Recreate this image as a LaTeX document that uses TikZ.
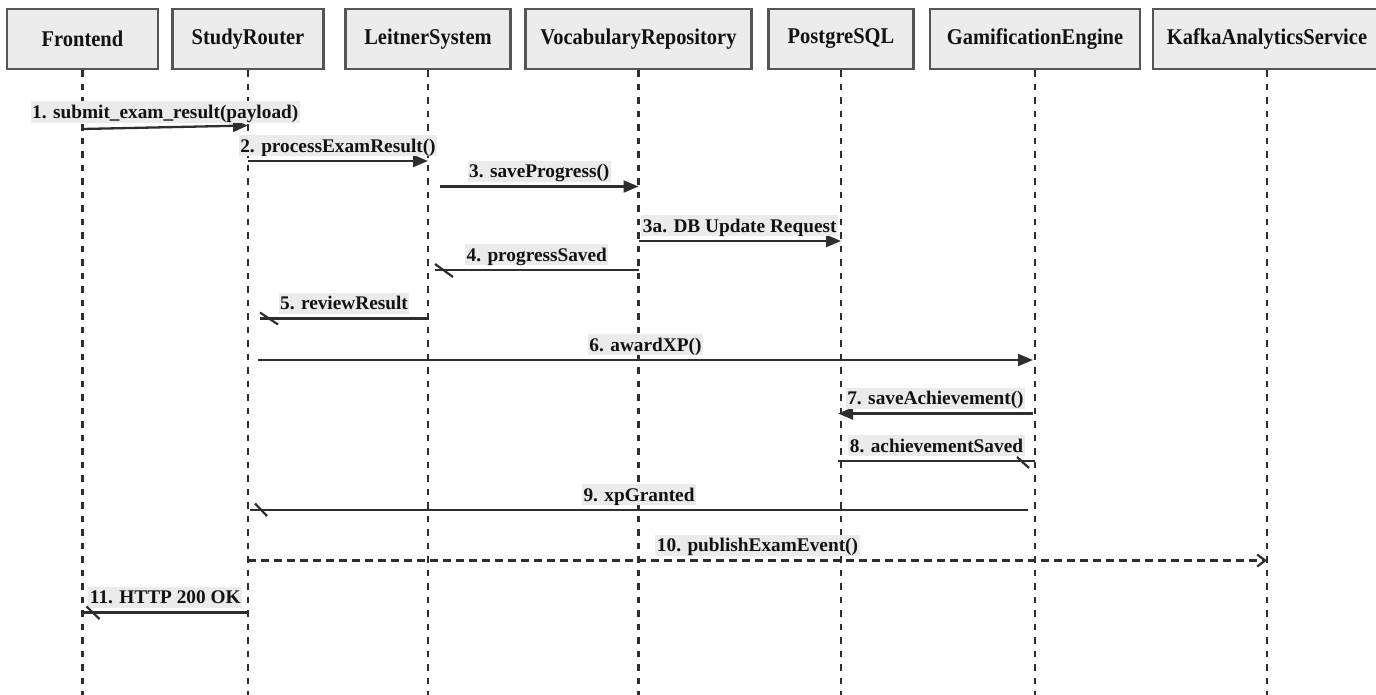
\documentclass[tikz,border=0pt]{standalone}
\usepackage{fontspec}
\setmainfont{Liberation Serif}
\newfontfamily\headfont{Liberation Serif}[FakeStretch=0.91]
\usetikzlibrary{arrows.meta,calc}
\definecolor{lc}{HTML}{2E2E2E}
\definecolor{hdfill}{HTML}{ECECEC}
\definecolor{hdborder}{HTML}{555555}
\definecolor{lblfill}{HTML}{EBEBEB}
\definecolor{txt}{HTML}{121212}
\tikzset{
  head/.style={draw=hdborder, line width=2.4pt, fill=hdfill, text=txt,
    minimum height=60pt, inner sep=0pt,
    font=\headfont\fontsize{22.5}{27}\selectfont\bfseries},
  life/.style={draw=lc, line width=2.4pt, dash pattern=on 6.5pt off 7pt},
  msgline/.style={draw=lc, line width=2.3pt},
  sync/.style={msgline, -{Triangle[length=15pt,width=12pt]}},
  async/.style={msgline, dash pattern=on 8pt off 5pt, -{Straight Barb[length=8pt,width=12pt,line width=2.2pt]}},
  ticktip/.style={draw=lc, line width=2.2pt},
  lbl/.style={fill=lblfill, text=txt, inner xsep=1.5pt, inner ysep=0pt,
    text height=17pt, text depth=4.3pt, anchor=south, yshift=3.5pt,
    font=\fontsize{19.3}{23}\selectfont\bfseries}
}
\begin{document}
\begin{tikzpicture}[x=1pt,y=-1pt]
\useasboundingbox (0,0) rectangle (1376,695);
\clip (0,0) rectangle (1376,695);
% participants
\node[head, minimum width=151pt] (FE) at (82.5,39) {Frontend};
\node[head, minimum width=151pt] (SR) at (248,39) {StudyRouter};
\node[head, minimum width=165pt] (LS) at (428,39) {LeitnerSystem};
\node[head, minimum width=226pt] (VR) at (638.5,39) {VocabularyRepository};
\node[head, minimum width=145pt] (PG) at (841,39) {PostgreSQL};
\node[head, minimum width=210pt] (GE) at (1035,39) {GamificationEngine};
\node[head, minimum width=228pt] (KA) at (1267,39) {KafkaAnalyticsService};
% lifelines
\foreach \p in {FE,SR,LS,VR,PG,GE,KA}{
  \coordinate (\p b) at (\p.south |- 0,700);
  \draw[life] (\p.south) -- (\p b);
}
% 1
\coordinate (m1s) at (FE |- 0,129);
\coordinate (m1e) at (SR |- 0,125.5);
\draw[sync] (m1s) -- (m1e) node[midway, lbl] (l1) {1. submit\_exam\_result(payload)};
% 2
\coordinate (m2s) at (SR |- 0,161);
\coordinate (m2e) at (LS |- 0,161);
\draw[sync] (m2s) -- (m2e) node[midway, lbl] (l2) {2. processExamResult()};
% 3
\coordinate (m3s) at ([xshift=12pt]LS.center |- 0,186.5);
\coordinate (m3e) at (VR |- 0,186.5);
\draw[sync] (m3s) -- (m3e) node[midway, lbl] (l3) {3. saveProgress()};
% 3a
\coordinate (m3as) at (VR |- 0,241);
\coordinate (m3ae) at (PG |- 0,241);
\draw[sync] (m3as) -- (m3ae) node[midway, lbl] (l3a) {3a. DB Update Request};
% 4
\coordinate (m4s) at (VR |- 0,270);
\coordinate (m4e) at ([xshift=7pt]LS.center |- 0,270);
\draw[msgline] (m4s) -- (m4e) node[midway, lbl] (l4) {4. progressSaved};
\draw[ticktip] ([shift={(0,-6)}]m4e) -- ([shift={(18,7)}]m4e);
% 5
\coordinate (m5s) at (LS |- 0,318.5);
\coordinate (m5e) at ([xshift=12pt]SR.center |- 0,318.5);
\draw[msgline] (m5s) -- (m5e) node[midway, lbl] (l5) {5. reviewResult};
\draw[ticktip] ([shift={(0,-6)}]m5e) -- ([shift={(18,6)}]m5e);
% 6
\coordinate (m6s) at ([xshift=10pt]SR.center |- 0,360);
\coordinate (m6e) at ([xshift=-2pt]GE.center |- 0,360);
\draw[sync] (m6s) -- (m6e) node[midway, lbl] (l6) {6. awardXP()};
% 7
\coordinate (m7s) at ([xshift=-2pt]GE.center |- 0,413.5);
\coordinate (m7e) at ([xshift=-3pt]PG.center |- 0,413.5);
\draw[sync] (m7s) -- (m7e) node[midway, lbl] (l7) {7. saveAchievement()};
% 8
\coordinate (m8s) at ([xshift=-3pt]PG.center |- 0,461);
\coordinate (m8e) at (GE |- 0,461);
\draw[msgline] (m8s) -- (m8e) node[midway, lbl] (l8) {8. achievementSaved};
\draw[ticktip] ([shift={(-18,-4)}]m8e) -- ([shift={(-6,7)}]m8e);
% 9
\coordinate (m9s) at ([xshift=-7pt]GE.center |- 0,510);
\coordinate (m9e) at ([xshift=2pt]SR.center |- 0,510);
\draw[msgline] (m9s) -- (m9e) node[midway, lbl] (l9) {9. xpGranted};
\draw[ticktip] ([shift={(5,-6.5)}]m9e) -- ([shift={(17,6)}]m9e);
% 10
\coordinate (m10s) at (SR |- 0,560.5);
\coordinate (m10e) at (KA |- 0,560.5);
\draw[async] (m10s) -- (m10e) node[midway, lbl] (l10) {10. publishExamEvent()};
% 11
\coordinate (m11s) at (SR |- 0,612.5);
\coordinate (m11e) at (FE |- 0,612.5);
\draw[msgline] (m11s) -- (m11e) node[midway, lbl] (l11) {11. HTTP 200 OK};
\draw[ticktip] ([shift={(4,-6)}]m11e) -- ([shift={(17,6.5)}]m11e);
\end{tikzpicture}
\end{document}
